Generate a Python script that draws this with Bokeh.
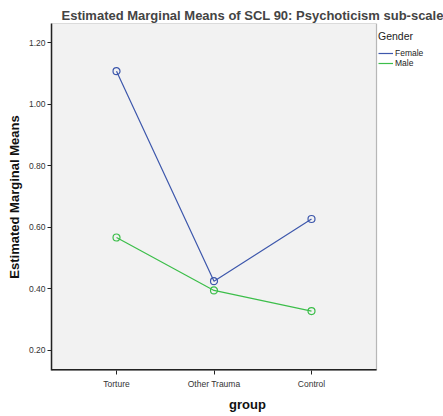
from bokeh.plotting import figure
from bokeh.models import FixedTicker, Legend, LegendItem, CustomJSTickFormatter, BoxAnnotation
from bokeh.embed import file_html
from bokeh.resources import INLINE

# Estimated marginal means by group and gender
groups = ["Torture", "Other Trauma", "Control"]
female = [1.107, 0.425, 0.627]
male = [0.567, 0.395, 0.328]
y_ticks = [0.20, 0.40, 0.60, 0.80, 1.00, 1.20]

FONT = "Liberation Sans"
NARROW = "'Liberation Sans Narrow', 'Liberation Sans'"
BLUE = "#3E58AC"
GREEN = "#3CBE4A"
EDGE = "#222222"

xs = list(range(len(groups)))
X_LO, X_HI = -0.667, 2.667   # extent of the shaded plot box
X_MAX = 3.354                # frame continues to the right to hold the legend

p = figure(
    width=443, height=416,
    x_range=(X_LO, X_MAX), y_range=(0.135, 1.262),
    output_backend="svg", toolbar_location=None,
    min_border_left=51, min_border_right=0, min_border_top=23, min_border_bottom=46,
)
p.background_fill_color = "white"
p.border_fill_color = "white"
p.outline_line_color = None
p.grid.visible = False

# Shaded plot box with its border
p.add_layout(BoxAnnotation(left=X_LO, right=X_HI, fill_color="#F2F2F2", fill_alpha=1,
                           line_color=EDGE, line_width=1.2, level="underlay"))

# Title
p.title.text = "Estimated Marginal Means of SCL 90: Psychoticism sub-scale"
p.title.text_font = FONT
p.title.text_font_size = "13px"
p.title.text_font_style = "bold"
p.title.align = "left"
p.title.offset = 10
p.title.standoff = 2

# Axes
p.xaxis.ticker = FixedTicker(ticks=xs)
p.xaxis.major_label_overrides = {i: g for i, g in enumerate(groups)}
p.yaxis.ticker = FixedTicker(ticks=y_ticks)
p.yaxis.formatter = CustomJSTickFormatter(code="return tick.toFixed(2);")
for ax in (p.xaxis[0], p.yaxis[0]):
    ax.axis_line_color = EDGE
    ax.axis_line_width = 1.5
    ax.major_tick_in = 0
    ax.major_tick_out = 4
    ax.major_tick_line_color = EDGE
    ax.minor_tick_line_color = None
    ax.major_label_text_font = FONT
    ax.major_label_text_font_size = "8.5px"
    ax.major_label_text_color = "#333333"
    ax.axis_label_text_font = FONT
    ax.axis_label_text_font_style = "bold"
    ax.axis_label_text_font_size = "13px"
    ax.axis_label_text_color = "#111111"
p.xaxis.axis_line_color = None
p.xaxis.major_label_text_font = NARROW
p.xaxis.major_label_standoff = 4
p.yaxis.major_label_standoff = 2
p.xaxis.axis_label = "group"
p.xaxis.axis_label_standoff = 5
p.yaxis.axis_label = "Estimated Marginal Means"
p.yaxis.axis_label_standoff = 4

# Bottom edge of the plot box
p.segment(x0=[X_LO], y0=[0.135], x1=[X_HI], y1=[0.135], line_color=EDGE, line_width=3)

# Series
rf = p.line(xs, female, line_color=BLUE, line_width=1.2)
p.scatter(xs, female, marker="circle", size=7, fill_color=None, line_color=BLUE, line_width=1.2)
rm = p.line(xs, male, line_color=GREEN, line_width=1.2)
p.scatter(xs, male, marker="circle", size=7, fill_color=None, line_color=GREEN, line_width=1.2)

# Legend to the right of the plot box
legend = Legend(
    items=[LegendItem(label="Female", renderers=[rf]), LegendItem(label="Male", renderers=[rm])],
    location=(327, 302),
    title="Gender",
    title_text_font=FONT, title_text_font_size="10.5px", title_text_color="#222222",
    title_text_font_style="normal",
    label_text_font=FONT, label_text_font_size="8.5px", label_text_color="#222222",
    glyph_width=15, glyph_height=8, label_standoff=2, spacing=0, padding=0, margin=0,
    label_height=10, title_standoff=6,
    background_fill_alpha=0, border_line_color=None,
)
p.add_layout(legend)

open("out.html", "w").write(file_html(p, INLINE))
